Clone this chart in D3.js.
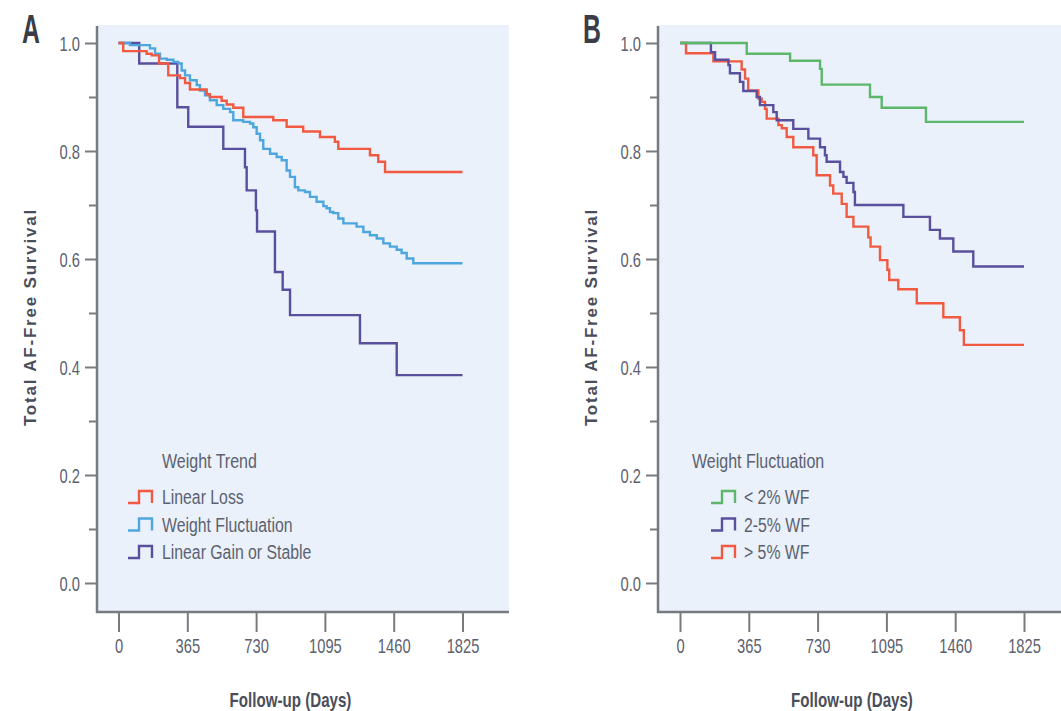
<!DOCTYPE html>
<html><head><meta charset="utf-8">
<script src="https://cdn.jsdelivr.net/npm/d3@7"></script>
<style>
body{margin:0;background:#fff;}
svg text{font-family:"Liberation Sans","Open Sans",sans-serif;}
</style></head>
<body><svg id="c" width="1061" height="711"></svg>
<script>
// ---- data ----
const xTicks = [0, 365, 730, 1095, 1460, 1825];
const yTicks = [0, 0.2, 0.4, 0.6, 0.8, 1.0];
const yMinor = [0.1, 0.3, 0.5, 0.7, 0.9];
const xMax = 1825;

// Panel A: Weight Trend  [day, survival]
const linearLoss = [[0,1],[25,0.985],[149,0.98],[176,0.977],[215,0.962],[264,0.94],[326,0.935],[353,0.926],[379,0.914],[468,0.905],[485,0.9],[547,0.893],[574,0.886],[609,0.88],[662,0.863],[821,0.857],[892,0.845],[980,0.836],[1069,0.826],[1148,0.817],[1166,0.804],[1334,0.792],[1378,0.78],[1414,0.761],[1825,0.761]];
const weightFluct = [[0,1],[61,0.996],[167,0.99],[194,0.98],[220,0.971],[256,0.969],[291,0.965],[317,0.962],[335,0.949],[353,0.94],[379,0.931],[415,0.922],[432,0.912],[459,0.903],[485,0.894],[521,0.885],[556,0.878],[592,0.872],[609,0.857],[662,0.854],[698,0.851],[715,0.844],[733,0.832],[751,0.82],[768,0.804],[804,0.795],[839,0.789],[866,0.783],[892,0.764],[910,0.752],[936,0.733],[954,0.727],[989,0.724],[1016,0.715],[1051,0.706],[1087,0.698],[1104,0.694],[1122,0.687],[1140,0.685],[1166,0.675],[1193,0.666],[1263,0.66],[1299,0.65],[1334,0.644],[1370,0.638],[1405,0.629],[1440,0.623],[1476,0.617],[1502,0.611],[1529,0.601],[1564,0.592],[1825,0.592]];
const gainStable = [[0,1],[110,0.962],[312,0.881],[370,0.845],[556,0.804],[671,0.77],[680,0.727],[729,0.69],[735,0.651],[830,0.576],[871,0.543],[910,0.496],[1281,0.444],[1476,0.385],[1825,0.385]];

// Panel B: Weight Fluctuation  [day, survival]
const wfLow = [[0,1],[354,0.98],[584,0.967],[743,0.952],[752,0.923],[1008,0.9],[1070,0.88],[1305,0.854],[1825,0.854]];
const wfMid = [[0,1],[164,0.983],[186,0.969],[257,0.959],[265,0.944],[318,0.928],[336,0.911],[407,0.9],[424,0.885],[495,0.872],[513,0.857],[601,0.841],[681,0.823],[743,0.807],[769,0.792],[778,0.78],[849,0.761],[867,0.752],[884,0.741],[920,0.724],[928,0.70],[1185,0.678],[1326,0.654],[1379,0.638],[1450,0.614],[1556,0.586],[1825,0.586]];
const wfHigh = [[0,1],[32,0.981],[177,0.966],[327,0.951],[345,0.934],[362,0.912],[416,0.897],[433,0.891],[451,0.878],[460,0.86],[522,0.848],[540,0.842],[566,0.826],[601,0.807],[707,0.792],[725,0.755],[796,0.736],[813,0.721],[858,0.702],[884,0.678],[920,0.66],[999,0.64],[1011,0.623],[1061,0.598],[1100,0.58],[1110,0.561],[1158,0.544],[1256,0.518],[1397,0.492],[1485,0.468],[1506,0.441],[1825,0.441]];

const legendA = ["Linear Loss", "Weight Fluctuation", "Linear Gain or Stable"];
const legendB = ["< 2% WF", "2-5% WF", "> 5% WF"];

const RED = "#f15a40", BLUE = "#4ea6de", PURPLE = "#5a4f9d", GREEN = "#5cb76b";
const BG = "#eaf1fa", AXIS = "#777b80", TXT = "#5c6170", TITLE = "#4a4e5a";

const svg = d3.select("#c");

// squeeze text horizontally to mimic the condensed typeface
function condense(sel, f) {
  sel.each(function () {
    const w = this.getComputedTextLength();
    d3.select(this).attr("textLength", w * f).attr("lengthAdjust", "spacingAndGlyphs");
  });
}

function panel(o) {
  const g = svg.append("g");
  const x = d3.scaleLinear().domain([0, xMax]).range([o.x0, o.x1]);
  const y = d3.scaleLinear().domain([0, 1]).range([583, 43]);
  g.append("rect").attr("x", o.left).attr("y", 25).attr("width", o.right - o.left).attr("height", 612 - 25).attr("fill", BG);

  const line = d3.line().x(d => x(d[0])).y(d => y(d[1])).curve(d3.curveStepAfter);
  o.series.slice().reverse().forEach(s => {
    g.append("path").datum(s.data).attr("d", line).attr("fill", "none")
      .attr("stroke", s.color).attr("stroke-width", 2.4);
  });

  // y axis
  const ya = g.append("g").attr("transform", `translate(${o.left},0)`)
    .call(d3.axisLeft(y).tickValues(yTicks).tickFormat(d3.format(".1f")).tickSize(12).tickPadding(5));
  ya.select(".domain").remove();
  ya.selectAll("line").attr("stroke", AXIS).attr("stroke-width", 2);
  ya.selectAll("text").attr("fill", TXT).attr("font-size", 21).attr("dy", "0.34em").call(condense, 0.7);
  const ym = g.append("g").attr("transform", `translate(${o.left},0)`)
    .call(d3.axisLeft(y).tickValues(yMinor).tickFormat("").tickSize(8));
  ym.select(".domain").remove();
  ym.selectAll("line").attr("stroke", AXIS).attr("stroke-width", 2);
  g.append("line").attr("x1", o.left).attr("x2", o.left).attr("y1", 26).attr("y2", 613)
    .attr("stroke", AXIS).attr("stroke-width", 2.5);

  // x axis
  const xa = g.append("g").attr("transform", "translate(0,612)")
    .call(d3.axisBottom(x).tickValues(xTicks).tickFormat(d3.format("d")).tickSize(20).tickPadding(6));
  xa.select(".domain").remove();
  xa.selectAll("line").attr("stroke", AXIS).attr("stroke-width", 2);
  xa.selectAll("text").attr("fill", TXT).attr("font-size", 21).call(condense, 0.7);
  g.append("line").attr("x1", o.left - 1).attr("x2", o.right).attr("y1", 612).attr("y2", 612)
    .attr("stroke", AXIS).attr("stroke-width", 2.5);

  // axis titles
  g.append("text").attr("x", (o.x0 + o.x1) / 2).attr("y", 707).attr("text-anchor", "middle")
    .attr("fill", TITLE).attr("font-size", 21).attr("font-weight", "bold").text("Follow-up (Days)")
    .call(condense, 0.72);
  g.append("text").attr("transform", `translate(${o.left - 61},317) rotate(-90)`).attr("text-anchor", "middle")
    .attr("fill", TITLE).attr("font-size", 17).attr("font-weight", "bold").attr("letter-spacing", 1.8)
    .text("Total AF-Free Survival");

  // panel letter
  g.append("text").attr("x", o.left - 75).attr("y", 43).attr("fill", "#3a3d47").attr("font-size", 40)
    .attr("font-weight", "bold").text(o.letter).call(condense, 0.62);

  // legend
  g.append("text").attr("x", o.legTitleX).attr("y", 468).attr("fill", TXT).attr("font-size", 20)
    .text(o.legTitle).call(condense, 0.8);
  o.series.forEach((s, i) => {
    const cy = 497 + i * 27.5;
    const ix = o.legIconX;
    g.append("path").attr("d", `M${ix},${cy + 6}H${ix + 11}V${cy - 6}H${ix + 24}V${cy + 6}`)
      .attr("fill", "none").attr("stroke", s.color).attr("stroke-width", 2.4);
    g.append("text").attr("x", ix + o.legTextGap).attr("y", cy + 7).attr("fill", TXT).attr("font-size", 20)
      .text(s.name).call(condense, 0.79);
  });
}

panel({
  letter: "A", left: 97, right: 509, x0: 118.5, x1: 462.5,
  legTitle: "Weight Trend", legTitleX: 162, legIconX: 128, legTextGap: 34,
  series: [
    {name: legendA[0], data: linearLoss, color: RED},
    {name: legendA[1], data: weightFluct, color: BLUE},
    {name: legendA[2], data: gainStable, color: PURPLE}
  ]
});
panel({
  letter: "B", left: 658, right: 1061, x0: 680, x1: 1024,
  legTitle: "Weight Fluctuation", legTitleX: 692, legIconX: 711, legTextGap: 33,
  series: [
    {name: legendB[0], data: wfLow, color: GREEN},
    {name: legendB[1], data: wfMid, color: PURPLE},
    {name: legendB[2], data: wfHigh, color: RED}
  ]
});
</script>
</body></html>
